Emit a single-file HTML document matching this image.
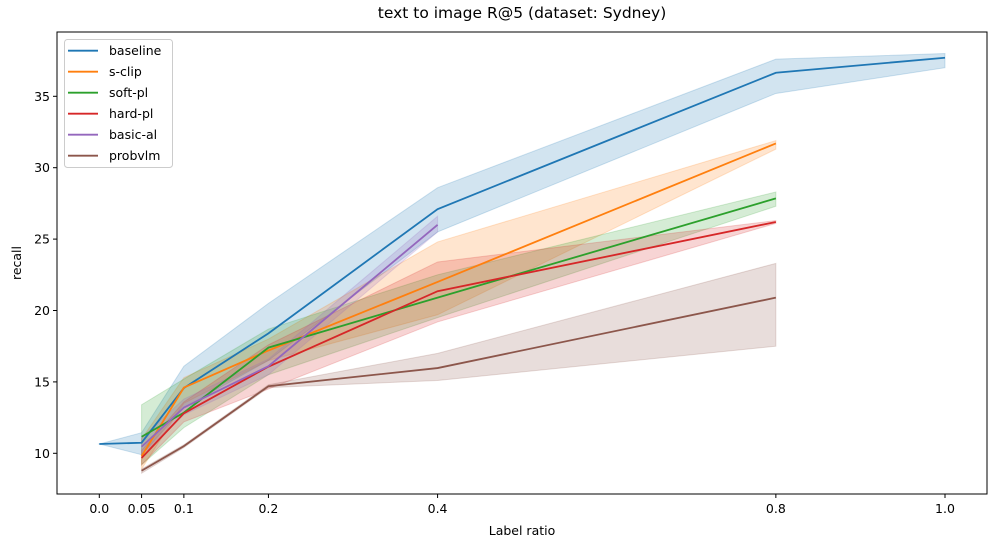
<!DOCTYPE html>
<html><head><meta charset="utf-8"><style>
body{margin:0;background:#fff;font-family:"Liberation Sans","DejaVu Sans",sans-serif;}
svg text{font-family:"DejaVu Sans","Liberation Sans",sans-serif;}
</style></head><body>
<svg id="chart" width="996" height="547">
</svg>
<script>
const xs = [0.0,0.05,0.1,0.2,0.4,0.8,1.0];
const xTicks = [0.0,0.05,0.1,0.2,0.4,0.8,1.0];
const xTickLabels = ["0.0","0.05","0.1","0.2","0.4","0.8","1.0"];
const yTicks = [10,15,20,25,30,35];
const seriesNames = ["baseline","s-clip","soft-pl","hard-pl","basic-al","probvlm"];
const colors = ["#1f77b4","#ff7f0e","#2ca02c","#d62728","#9467bd","#8c564b"];
const baselineMean = [10.65,10.74,14.57,18.4,27.1,36.65,37.7];
const baselineLo   = [10.65,9.9,13.2,16.5,25.5,35.2,37.0];
const baselineHi   = [10.65,11.44,16.1,20.5,28.6,37.6,38.0];
const sclipMean = [null,9.8,14.6,17.2,22.0,31.7,null];
const sclipLo   = [null,8.9,13.5,16.5,19.7,31.3,null];
const sclipHi   = [null,11.0,15.3,18.0,24.8,31.9,null];
const softMean = [null,11.16,12.85,17.4,20.9,27.85,null];
const softLo   = [null,9.2,11.8,15.5,19.5,27.3,null];
const softHi   = [null,13.4,15.2,18.7,22.5,28.3,null];
const hardMean = [null,9.67,12.8,16.07,21.35,26.2,null];
const hardLo   = [null,9.2,12.2,14.5,19.2,26.1,null];
const hardHi   = [null,10.2,13.6,17.6,23.4,26.3,null];
const basicMean = [null,10.46,13.2,16.1,26.0,null,null];
const basicLo   = [null,9.9,12.7,15.5,25.5,null,null];
const basicHi   = [null,11.1,13.8,16.6,26.6,null,null];
const probMean = [null,8.78,10.5,14.7,15.97,20.9,null];
const probLo   = [null,8.6,10.4,14.6,15.1,17.5,null];
const probHi   = [null,8.9,10.6,14.8,17.0,23.3,null];
const means=[baselineMean,sclipMean,softMean,hardMean,basicMean,probMean];
const los=[baselineLo,sclipLo,softLo,hardLo,basicLo,probLo];
const his=[baselineHi,sclipHi,softHi,hardHi,basicHi,probHi];

const L=57,R=987,T=32,B=494;
const X=v=>99.3+v*845.7;
const Y=v=>453.3-(v-10)*14.28;
const NS="http://www.w3.org/2000/svg";
const svg=document.getElementById('chart');
function mk(tag,attrs,parent){const e=document.createElementNS(NS,tag);for(const k in attrs)e.setAttribute(k,attrs[k]);(parent||svg).appendChild(e);return e;}

const t=mk('text',{x:522,y:18,'text-anchor':'middle','font-size':'15.5'});
t.textContent='text to image R@5 (dataset: Sydney)';



const plot=mk('g',{});



for(let s=0;s<6;s++){
  const idx=xs.map((x,i)=>i).filter(i=>means[s][i]!==null);
  const top=idx.map(i=>X(xs[i])+','+Y(his[s][i]));
  const bot=idx.slice().reverse().map(i=>X(xs[i])+','+Y(los[s][i]));
  const band=mk('polygon',{points:top.concat(bot).join(' '),fill:colors[s],'fill-opacity':0.2,stroke:colors[s],'stroke-opacity':0.2},plot);
  
  
}
for(let s=0;s<6;s++){
  const idx=xs.map((x,i)=>i).filter(i=>means[s][i]!==null);
  const line=mk('polyline',{points:idx.map(i=>X(xs[i])+','+Y(means[s][i])).join(' '),fill:'none',stroke:colors[s],'stroke-width':1.8},plot);
  
  
}
const frame=mk('rect',{x:L,y:T,width:R-L,height:B-T,fill:'none',stroke:'#000','stroke-width':1});



xTicks.forEach((v,i)=>{
  mk('line',{x1:X(v),x2:X(v),y1:B,y2:B+4,stroke:'#000'});
  const tx=mk('text',{x:X(v),y:B+19,'text-anchor':'middle','font-size':'12.5'});
  tx.textContent=xTickLabels[i];
  
  
});
yTicks.forEach(v=>{
  mk('line',{x1:L-4,x2:L,y1:Y(v),y2:Y(v),stroke:'#000'});
  const ty=mk('text',{x:L-7,y:Y(v)+4.5,'text-anchor':'end','font-size':'12.5'});
  ty.textContent=String(v);
  
  
});
const xl=mk('text',{x:522,y:535,'text-anchor':'middle','font-size':'12.5'});
xl.textContent='Label ratio';


const yl=mk('text',{x:21,y:263,'text-anchor':'middle','font-size':'12.5',transform:'rotate(-90 21 263)'});
yl.textContent='recall';



const lg=mk('g',{});


mk('rect',{x:64.5,y:39.5,width:108,height:128,rx:3,fill:'#fff','fill-opacity':0.8,stroke:'#ccc'},lg);
seriesNames.forEach((n,i)=>{
  const y=50.7+i*21;
  const e=mk('g',{},lg);
  
  
  mk('line',{x1:68,x2:98,y1:y,y2:y,stroke:colors[i],'stroke-width':1.8},e);
  const tt=mk('text',{x:109,y:y+4.5,'font-size':'12.5'},e);
  tt.textContent=n;
});
</script>
</body></html>
